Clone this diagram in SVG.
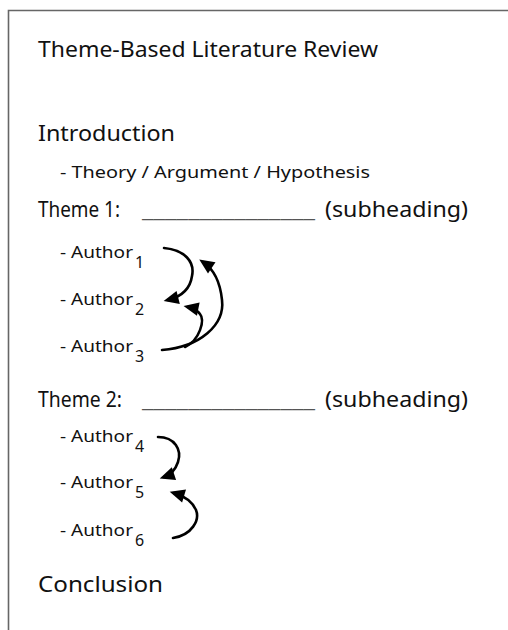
<svg xmlns="http://www.w3.org/2000/svg" width="508" height="630" viewBox="0 0 508 630">
<style>
text{font-family:"Noto Sans","DejaVu Sans",sans-serif;fill:#111}
.h{font-size:21px}
.s{font-size:17px}
.sub{font-size:16px}
.c{fill:none;stroke:#000;stroke-width:2.6;stroke-linecap:round}
</style>
<defs>
<marker id="ah" viewBox="0 0 10 10" refX="7" refY="5" markerWidth="17" markerHeight="15" orient="auto" markerUnits="userSpaceOnUse">
<path d="M0,0.5 L10,5 L0,9.5 z" fill="#000"/>
</marker>
</defs>
<rect width="508" height="630" fill="#fff"/>
<path d="M8.5,630 V10.5 H508" fill="none" stroke="#666" stroke-width="1.6"/>
<g id="title"><text class="h" x="38" y="57" textLength="340" lengthAdjust="spacingAndGlyphs">Theme-Based Literature Review</text></g>
<g id="intro"><text class="h" x="38" y="141" textLength="137" lengthAdjust="spacingAndGlyphs">Introduction</text>
<text class="s" x="60" y="178" textLength="310" lengthAdjust="spacingAndGlyphs">- Theory / Argument / Hypothesis</text></g>
<g id="theme1">
<text class="h" x="38" y="217" textLength="82" lengthAdjust="spacingAndGlyphs">Theme 1:</text>
<text class="h" x="142" y="217" textLength="173" lengthAdjust="spacingAndGlyphs" style="fill:#555">_______________</text>
<text class="h" x="325" y="217" textLength="143" lengthAdjust="spacingAndGlyphs">(subheading)</text>
</g>
<g id="author1"><text class="s" x="60" y="258" textLength="73" lengthAdjust="spacingAndGlyphs">- Author</text><text class="sub" x="135" y="268">1</text></g>
<g id="author2"><text class="s" x="60" y="305" textLength="73" lengthAdjust="spacingAndGlyphs">- Author</text><text class="sub" x="135" y="315">2</text></g>
<g id="author3"><text class="s" x="60" y="352" textLength="73" lengthAdjust="spacingAndGlyphs">- Author</text><text class="sub" x="135" y="362">3</text></g>
<g id="theme2">
<text class="h" x="38" y="407" textLength="84" lengthAdjust="spacingAndGlyphs">Theme 2:</text>
<text class="h" x="142" y="407" textLength="173" lengthAdjust="spacingAndGlyphs" style="fill:#555">_______________</text>
<text class="h" x="325" y="407" textLength="143" lengthAdjust="spacingAndGlyphs">(subheading)</text>
</g>
<g id="author4"><text class="s" x="60" y="442" textLength="73" lengthAdjust="spacingAndGlyphs">- Author</text><text class="sub" x="135" y="452">4</text></g>
<g id="author5"><text class="s" x="60" y="488" textLength="73" lengthAdjust="spacingAndGlyphs">- Author</text><text class="sub" x="135" y="498">5</text></g>
<g id="author6"><text class="s" x="60" y="536" textLength="73" lengthAdjust="spacingAndGlyphs">- Author</text><text class="sub" x="135" y="546">6</text></g>
<g id="conclusion"><text class="h" x="38" y="592" textLength="125" lengthAdjust="spacingAndGlyphs">Conclusion</text></g>
<g id="connectors">
<path class="c" marker-end="url(#ah)" d="M164,248 C185,250 195,262 192,276 C190,290 180,297 168,300"/>
<path class="c" marker-end="url(#ah)" d="M162,350 C200,347 225,325 222,300 C220,280 212,268 203,262"/>
<path class="c" marker-end="url(#ah)" d="M185,347 C200,340 205,320 200,314 C197,310 193,308 188,307"/>
<path class="c" marker-end="url(#ah)" d="M158,437 C175,437 182,450 178,462 C175,471 170,475 164,477"/>
<path class="c" marker-end="url(#ah)" d="M173,538 C192,535 200,520 196,510 C192,501 184,496 174,493"/>
</g>
</svg>
